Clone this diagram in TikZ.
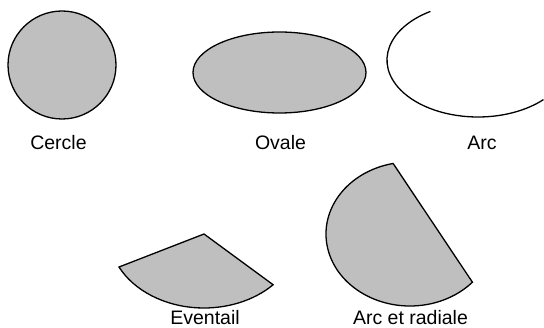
\documentclass[tikz,border=0pt]{standalone}
\usepackage{fontspec}
\setmainfont{Liberation Sans}
\begin{document}
\begin{tikzpicture}[x=1pt,y=1pt,
    forme/.style={draw=black,line width=1.3pt,fill=black!25},
    trait/.style={draw=black,line width=1.3pt},
    legende/.style={inner sep=0pt,anchor=base,font=\fontsize{19.5}{23}\selectfont}]
  \useasboundingbox (0,0) rectangle (544,327);
  % first row
  \draw[forme] (62,262) circle[radius=54pt];
  \draw[forme] (279.5,254.5) ellipse[x radius=86.5pt,y radius=40.5pt];
  \draw[trait] (478,267) ++(121.5:91pt and 57pt)
    arc[start angle=121.5,end angle=316,x radius=91pt,y radius=57pt];
  \node[legende] (cercle) at (58.5,177) {Cercle};
  \node[legende] (ovale) at (280.5,177) {Ovale};
  \node[legende] (arc) at (482,177) {Arc};
  % second row
  \draw[forme] (204,93) -- ++(206.5:95pt and 74pt)
    arc[start angle=206.5,end angle=316.7,x radius=95pt,y radius=74pt] -- cycle;
  \draw[forme] (410,93) ++(101.6:84pt and 72pt)
    arc[start angle=101.6,end angle=318,x radius=84pt,y radius=72pt] -- cycle;
  \node[legende] (eventail) at (205,3) {Eventail};
  \node[legende] (arcradiale) at (410.5,3) {Arc et radiale};
\end{tikzpicture}
\end{document}
